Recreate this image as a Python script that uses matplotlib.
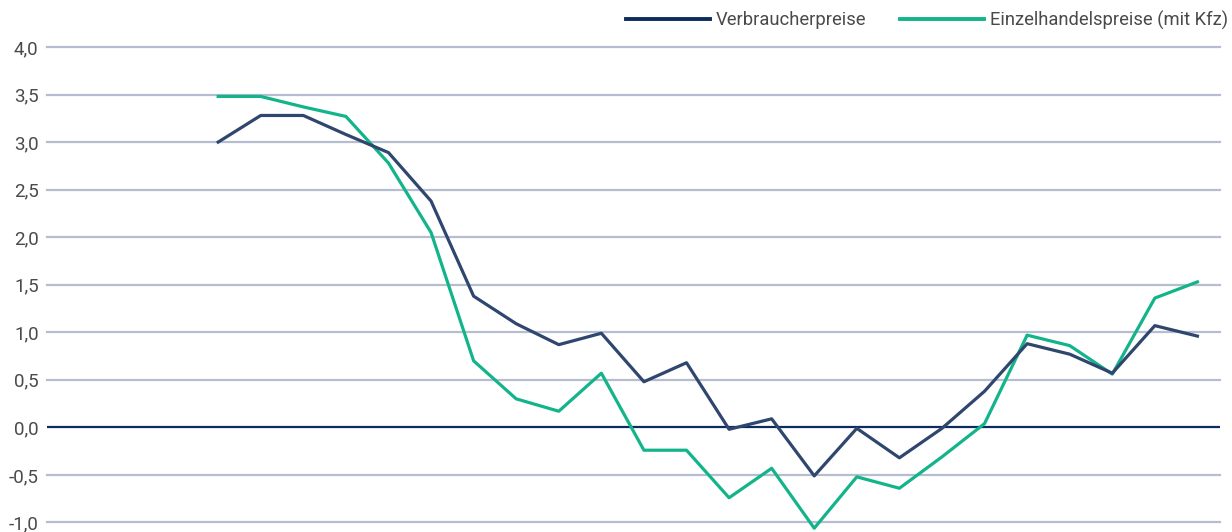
import matplotlib.pyplot as plt
from matplotlib.lines import Line2D
from matplotlib.ticker import FuncFormatter

# Werte (Veränderung ggü. Vorjahr in %)
verbraucher = [3.00, 3.28, 3.28, 3.08, 2.89, 2.38, 1.38, 1.09, 0.87, 0.99, 0.48, 0.68,
               -0.02, 0.09, -0.51, -0.01, -0.32, -0.01, 0.38, 0.88, 0.77, 0.57, 1.07, 0.96]
einzelhandel = [3.48, 3.48, 3.37, 3.27, 2.78, 2.05, 0.70, 0.30, 0.17, 0.57, -0.24, -0.24,
                -0.74, -0.43, -1.06, -0.52, -0.64, -0.31, 0.04, 0.97, 0.86, 0.56, 1.36, 1.53]
labels = ["Verbraucherpreise", "Einzelhandelspreise (mit Kfz)"]
y_ticks = [-1.0, -0.5, 0.0, 0.5, 1.0, 1.5, 2.0, 2.5, 3.0, 3.5, 4.0]

navy = "#2f466f"
navy_dark = "#0c2c5c"
green = "#14b48b"
grid_col = "#b6bdd0"
text_col = "#4a4a4a"

plt.rcParams['font.family'] = ['Roboto', 'DejaVu Sans']

fig = plt.figure(figsize=(12.32, 5.32), dpi=100)
ax = fig.add_axes([47 / 1232, 0.0, (1220 - 47) / 1232, 1 - 47 / 532])

x = list(range(len(verbraucher)))

for t in y_ticks:
    if t == 0:
        continue
    ax.axhline(t, color=grid_col, lw=1.6, zorder=1, clip_on=False)
ax.axhline(0, color=navy_dark, lw=1.6, zorder=2)

ax.plot(x, einzelhandel, color=green, lw=2.3, zorder=3)
ax.plot(x, verbraucher, color=navy, lw=2.3, zorder=4)

ax.set_xlim(-4.02, 23.53)
ax.set_ylim(-1.1, 4.0)
ax.set_yticks(y_ticks)
ax.yaxis.set_major_formatter(FuncFormatter(lambda v, p: f"{v:.1f}".replace(".", ",")))
ax.tick_params(axis='y', length=0, pad=6, labelsize=13.5, labelcolor=text_col)
ax.set_xticks([])
for s in ax.spines.values():
    s.set_visible(False)

handles = [Line2D([], [], color=navy_dark, lw=2.8), Line2D([], [], color=green, lw=2.8)]
fig.legend(handles, labels, loc='center right', bbox_to_anchor=(1228 / 1232, 1 - 20 / 532),
           ncol=2, frameon=False, fontsize=13.2, labelcolor=text_col, handlelength=4.6,
           handletextpad=0.3, columnspacing=1.85, borderpad=0, borderaxespad=0)

fig.savefig("out.png", dpi=100)
